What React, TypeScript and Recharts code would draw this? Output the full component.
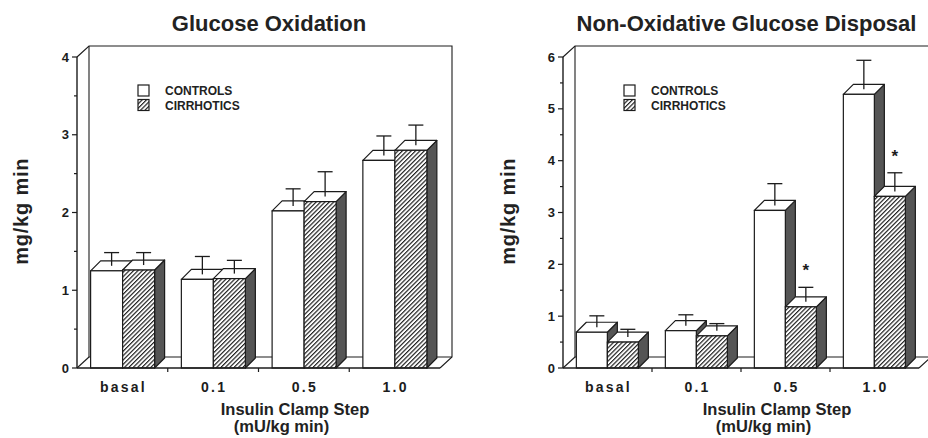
import React from 'react';
import * as R from 'recharts';

const { BarChart, Bar, XAxis, YAxis, Customized } = R as any;
const usePlotAreaHook: any = (R as any).usePlotArea;

// ---------- data ----------
const categories = ['basal', '0.1', '0.5', '1.0'];
const seriesNames = ['CONTROLS', 'CIRRHOTICS'];

// Glucose Oxidation (mg/kg min)
const goControls = [1.25, 1.14, 2.02, 2.67];
const goControlsSem = [0.17, 0.23, 0.22, 0.25];
const goCirrhotics = [1.26, 1.15, 2.14, 2.8];
const goCirrhoticsSem = [0.16, 0.17, 0.32, 0.26];
const goStars = [false, false, false, false];
const goTicks = [0, 0.5, 1, 1.5, 2, 2.5, 3, 3.5, 4];

// Non-Oxidative Glucose Disposal (mg/kg min)
const nogdControls = [0.69, 0.72, 3.04, 5.28];
const nogdControlsSem = [0.22, 0.21, 0.42, 0.56];
const nogdCirrhotics = [0.5, 0.62, 1.18, 3.31];
const nogdCirrhoticsSem = [0.15, 0.14, 0.28, 0.36];
const nogdStars = [false, false, true, true];
const nogdTicks = [0, 0.5, 1, 1.5, 2, 2.5, 3, 3.5, 4, 4.5, 5, 5.5, 6];

const buildRows = (c: number[], cs: number[], r: number[], rs: number[], st: boolean[]) =>
  categories.map((cat, i) => ({ cat, ctrl: c[i], ctrlSem: cs[i], cirr: r[i], cirrSem: rs[i], star: st[i] }));

const goRows = buildRows(goControls, goControlsSem, goCirrhotics, goCirrhoticsSem, goStars);
const nogdRows = buildRows(nogdControls, nogdControlsSem, nogdCirrhotics, nogdCirrhoticsSem, nogdStars);

// ---------- style ----------
const FONT = '"Liberation Sans", Arial, Helvetica, sans-serif';
const INK = '#1c1c1c';
const SIDE = '#555555';
const HATCH = 'url(#hatch)';
const BDX = 10;
const BDY = 10;
const WDX = 12;
const WDY = 11;

function makeShape(valKey: string, semKey: string, fill: string) {
  return (props: any) => {
    const { x, y, width, height, payload } = props;
    if (x == null || y == null) return null;
    const v = payload[valKey];
    const sem = payload[semKey];
    const k = v > 0 ? height / v : 0;
    const cx = x + width / 2 + BDX / 2;
    const yt = y - BDY / 2;
    const ye = yt - sem * k;
    const b = y + height;
    return (
      <g>
        <polygon
          points={`${x + width},${y} ${x + width + BDX},${y - BDY} ${x + width + BDX},${b - BDY} ${x + width},${b}`}
          fill={SIDE}
          stroke={INK}
          strokeWidth={1.2}
          strokeLinejoin="round"
        />
        <polygon
          points={`${x},${y} ${x + BDX},${y - BDY} ${x + width + BDX},${y - BDY} ${x + width},${y}`}
          fill="#fff"
          stroke={INK}
          strokeWidth={1.2}
          strokeLinejoin="round"
        />
        <rect x={x} y={y} width={width} height={height} fill={fill} stroke={INK} strokeWidth={1.2} />
        <line x1={cx} x2={cx} y1={yt} y2={ye} stroke={INK} strokeWidth={1.3} />
        <line x1={cx - 7.5} x2={cx + 7.5} y1={ye} y2={ye} stroke={INK} strokeWidth={1.3} />
        {payload.star && valKey === 'cirr' ? (
          <text x={cx} y={ye - 11} textAnchor="middle" fontFamily={FONT} fontWeight="bold" fontSize={17} fill={INK}>
            *
          </text>
        ) : null}
      </g>
    );
  };
}

const YTick = (props: any) => {
  const { x, y, payload } = props;
  const v = payload.value;
  const major = Math.abs(v - Math.round(v)) < 1e-6;
  return (
    <g>
      <line x1={x - (major ? 5 : 3)} x2={x} y1={y} y2={y} stroke={INK} strokeWidth={1.2} />
      {major ? (
        <text x={x - 8} y={y + 4.5} textAnchor="end" fontFamily={FONT} fontWeight="bold" fontSize={13} fill={INK}>
          {v}
        </text>
      ) : null}
    </g>
  );
};

const XTick = (props: any) => {
  const { x, y, payload, index } = props;
  const half = payload && typeof payload.offset === 'number' && payload.offset > 0 ? payload.offset : 45;
  return (
    <g>
      {index > 0 ? <line x1={x - half} x2={x - half} y1={y} y2={y + 4} stroke={INK} strokeWidth={1.2} /> : null}
      <text x={x + 1} y={y + 24} textAnchor="middle" fontFamily={FONT} fontWeight="bold" fontSize={14} letterSpacing={2.2} fill={INK}>
        {payload.value}
      </text>
    </g>
  );
};

type Cfg = {
  title: string;
  titleX: number;
  yTitleX: number;
  xTitle1X: number;
  xTitle2X: number;
  fallback: { x: number; y: number; width: number; height: number };
};

function usePA(fallback: any) {
  if (usePlotAreaHook) {
    const pa = usePlotAreaHook();
    if (pa && pa.width > 0) return pa;
  }
  return fallback;
}

const Frame = ({ cfg }: { cfg: Cfg }) => {
  const pa = usePA(cfg.fallback);
  const L = pa.x;
  const T = pa.y;
  const Rr = pa.x + pa.width;
  const B = pa.y + pa.height;
  const midY = T + pa.height * 0.496;
  const ln = { stroke: INK, strokeWidth: 1.1, fill: 'none' };
  return (
    <g>
      <polyline points={`${L},${T} ${L + WDX},${T - WDY} ${Rr + WDX},${T - WDY} ${Rr + WDX},${B - WDY} ${Rr},${B}`} {...ln} />
      <line x1={L + WDX} y1={T - WDY} x2={L + WDX} y2={B - WDY} {...ln} />
      <line x1={L} y1={B} x2={L + WDX} y2={B - WDY} {...ln} />
      <line x1={L + WDX} y1={B - WDY} x2={Rr + WDX} y2={B - WDY} {...ln} />
      {/* title */}
      <text x={cfg.titleX} y={31} textAnchor="middle" fontFamily={FONT} fontWeight="bold" fontSize={22} fill="#222">
        {cfg.title}
      </text>
      {/* y-axis title */}
      <text
        x={cfg.yTitleX}
        y={midY}
        transform={`rotate(-90 ${cfg.yTitleX} ${midY})`}
        textAnchor="middle"
        fontFamily={FONT}
        fontWeight="bold"
        fontSize={20}
        letterSpacing={0.8}
        fill="#222"
      >
        mg/kg min
      </text>
      {/* x-axis title */}
      <text x={cfg.xTitle1X} y={415} textAnchor="middle" fontFamily={FONT} fontWeight="bold" fontSize={16.5} fill="#222">
        Insulin Clamp Step
      </text>
      <text x={cfg.xTitle2X} y={432} textAnchor="middle" fontFamily={FONT} fontWeight="bold" fontSize={16.5} fill="#222">
        (mU/kg min)
      </text>
      {/* legend */}
      <rect x={L + 61} y={85} width={11} height={11} fill="#fff" stroke={INK} strokeWidth={1.2} />
      <rect x={L + 61} y={99.5} width={11} height={11} fill={HATCH} stroke={INK} strokeWidth={1.2} />
      <text x={L + 88} y={95} fontFamily={FONT} fontWeight="bold" fontSize={12} fill="#222">
        {seriesNames[0]}
      </text>
      <text x={L + 88} y={109.5} fontFamily={FONT} fontWeight="bold" fontSize={12} fill="#222">
        {seriesNames[1]}
      </text>
    </g>
  );
};

const ctrlShape = makeShape('ctrl', 'ctrlSem', '#fff');
const cirrShape = makeShape('cirr', 'cirrSem', HATCH);

function Panel(props: {
  rows: any[];
  max: number;
  ticks: number[];
  yAxisWidth: number;
  marginRight: number;
  cfg: Cfg;
}) {
  const { rows, max, ticks, yAxisWidth, marginRight, cfg } = props;
  return (
    <BarChart
      width={464}
      height={438}
      data={rows}
      margin={{ top: 57, right: marginRight, bottom: 0, left: 0 }}
      barCategoryGap="15%"
      barGap={0}
    >
      <Customized component={<Frame cfg={cfg} />} />
      <XAxis
        dataKey="cat"
        height={70}
        tickSize={0}
        tickMargin={0}
        tickLine={false}
        interval={0}
        axisLine={{ stroke: INK, strokeWidth: 1.4 }}
        tick={<XTick />}
      />
      <YAxis
        type="number"
        domain={[0, max]}
        ticks={ticks}
        interval={0}
        width={yAxisWidth}
        tickSize={0}
        tickMargin={0}
        tickLine={false}
        axisLine={{ stroke: INK, strokeWidth: 1.4 }}
        tick={<YTick />}
      />
      <Bar dataKey="ctrl" name={seriesNames[0]} isAnimationActive={false} shape={ctrlShape} />
      <Bar dataKey="cirr" name={seriesNames[1]} isAnimationActive={false} shape={cirrShape} />
    </BarChart>
  );
}

export default function App() {
  return (
    <div style={{ position: 'absolute', left: 0, top: 0, width: 928, height: 438, background: '#fff', overflow: 'hidden' }}>
      <svg width={0} height={0} style={{ position: 'absolute' }}>
        <defs>
          <pattern id="hatch" patternUnits="userSpaceOnUse" width={3.1} height={3.1} patternTransform="rotate(45)">
            <rect width={3.1} height={3.1} fill="#fff" />
            <line x1={0.6} y1={0} x2={0.6} y2={3.1} stroke="#1a1a1a" strokeWidth={1.15} />
          </pattern>
        </defs>
      </svg>
      <div style={{ position: 'absolute', left: 0, top: 0 }}>
        <Panel
          rows={goRows}
          max={4}
          ticks={goTicks}
          yAxisWidth={77}
          marginRight={24}
          cfg={{
            title: 'Glucose Oxidation',
            titleX: 269,
            yTitleX: 28,
            xTitle1X: 295,
            xTitle2X: 281.5,
            fallback: { x: 77, y: 57, width: 363, height: 311 },
          }}
        />
      </div>
      <div style={{ position: 'absolute', left: 464, top: 0 }}>
        <Panel
          rows={nogdRows}
          max={6}
          ticks={nogdTicks}
          yAxisWidth={99}
          marginRight={9}
          cfg={{
            title: 'Non-Oxidative Glucose Disposal',
            titleX: 282.5,
            yTitleX: 51,
            xTitle1X: 313,
            xTitle2X: 299.5,
            fallback: { x: 99, y: 57, width: 356, height: 311 },
          }}
        />
      </div>
    </div>
  );
}
